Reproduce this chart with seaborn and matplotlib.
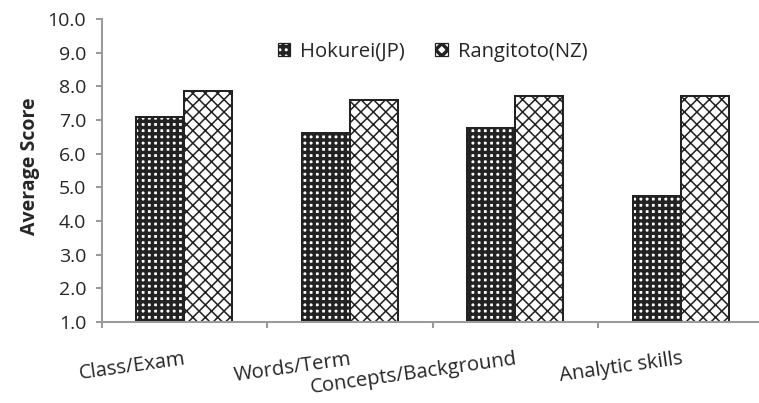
import matplotlib
matplotlib.use("Agg")
import matplotlib.pyplot as plt
from matplotlib.patches import Patch
import seaborn as sns
import pandas as pd

# Survey results: average score per item for each school
categories = ["Class/Exam", "Words/Term", "Concepts/Background", "Analytic skills"]
hokurei = [7.1, 6.6, 6.75, 4.75]
rangitoto = [7.85, 7.6, 7.7, 7.7]
series_names = ["Hokurei(JP)", "Rangitoto(NZ)"]
y_ticks = [1.0, 2.0, 3.0, 4.0, 5.0, 6.0, 7.0, 8.0, 9.0, 10.0]

df = pd.DataFrame({
    "item": categories * 2,
    "school": [series_names[0]] * 4 + [series_names[1]] * 4,
    "score": hokurei + rangitoto,
})

sns.set_theme(style="white")
plt.rcParams["font.family"] = ["Open Sans", "DejaVu Sans"]
plt.rcParams["hatch.linewidth"] = 2.2

DPI = 112
fig = plt.figure(figsize=(759 / DPI, 403 / DPI), dpi=DPI)
ax = fig.add_axes([101.7 / 759, 1 - 322 / 403, 662 / 759, 303 / 403])

TEXT = "#262626"
EDGE = "#222222"
AXIS = "#9a9a9a"
FS = 12.5

sns.barplot(data=df, x="item", y="score", hue="school", order=categories,
            hue_order=series_names, palette=["white", "white"],
            edgecolor=EDGE, linewidth=1.3, width=0.58, gap=0,
            legend=False, ax=ax)

hatches = ["+++", "xxx"]
hatch_lw = [2.2, 1.0]
for cont, h, lw in zip(ax.containers, hatches, hatch_lw):
    for bar in cont:
        bar.set_hatch(h)
        if hasattr(bar, "set_hatch_linewidth"):
            bar.set_hatch_linewidth(lw)

ax.set_ylim(1.0, 10.0)
ax.set_xlim(-0.5, 3.5)
ax.set_yticks(y_ticks)
ax.set_yticklabels([f"{v:.1f}" for v in y_ticks], fontsize=FS, color=TEXT)

ax.set_xticks(range(len(categories)))
ax.set_xticklabels(categories, fontsize=13, color=TEXT, rotation=8,
                   ha="right", va="top", rotation_mode="anchor")
ax.set_xticks([-0.5, 0.5, 1.5, 2.5], minor=True)
ax.tick_params(axis="x", which="major", length=0, pad=17.5)
ax.tick_params(axis="x", which="minor", length=4, width=1.3, color=AXIS,
               direction="out", bottom=True)
ax.tick_params(axis="y", length=4, width=1.3, color=AXIS, direction="out",
               left=True, pad=6)

for side in ("top", "right"):
    ax.spines[side].set_visible(False)
for side in ("left", "bottom"):
    ax.spines[side].set_color(AXIS)
    ax.spines[side].set_linewidth(1.3)

ax.set_xlabel("")
ax.set_ylabel("")
fig.text(30 / 759, 1 - 166 / 403, "Average Score", rotation=90,
         ha="center", va="center", fontsize=FS, fontweight="bold", color=TEXT)

handles = []
for name, h, lw in zip(series_names, hatches, hatch_lw):
    p = Patch(facecolor="white", edgecolor=EDGE, hatch=h, linewidth=0.8, label=name)
    if hasattr(p, "set_hatch_linewidth"):
        p.set_hatch_linewidth(lw)
    handles.append(p)
leg = ax.legend(handles=handles, loc="center", bbox_to_anchor=(0.50, 0.891),
                ncol=2, frameon=False, fontsize=13, handlelength=0.6,
                handleheight=0.6, handletextpad=0.5, columnspacing=1.5)
for t in leg.get_texts():
    t.set_color(TEXT)

fig.savefig("out.png", dpi=DPI)
